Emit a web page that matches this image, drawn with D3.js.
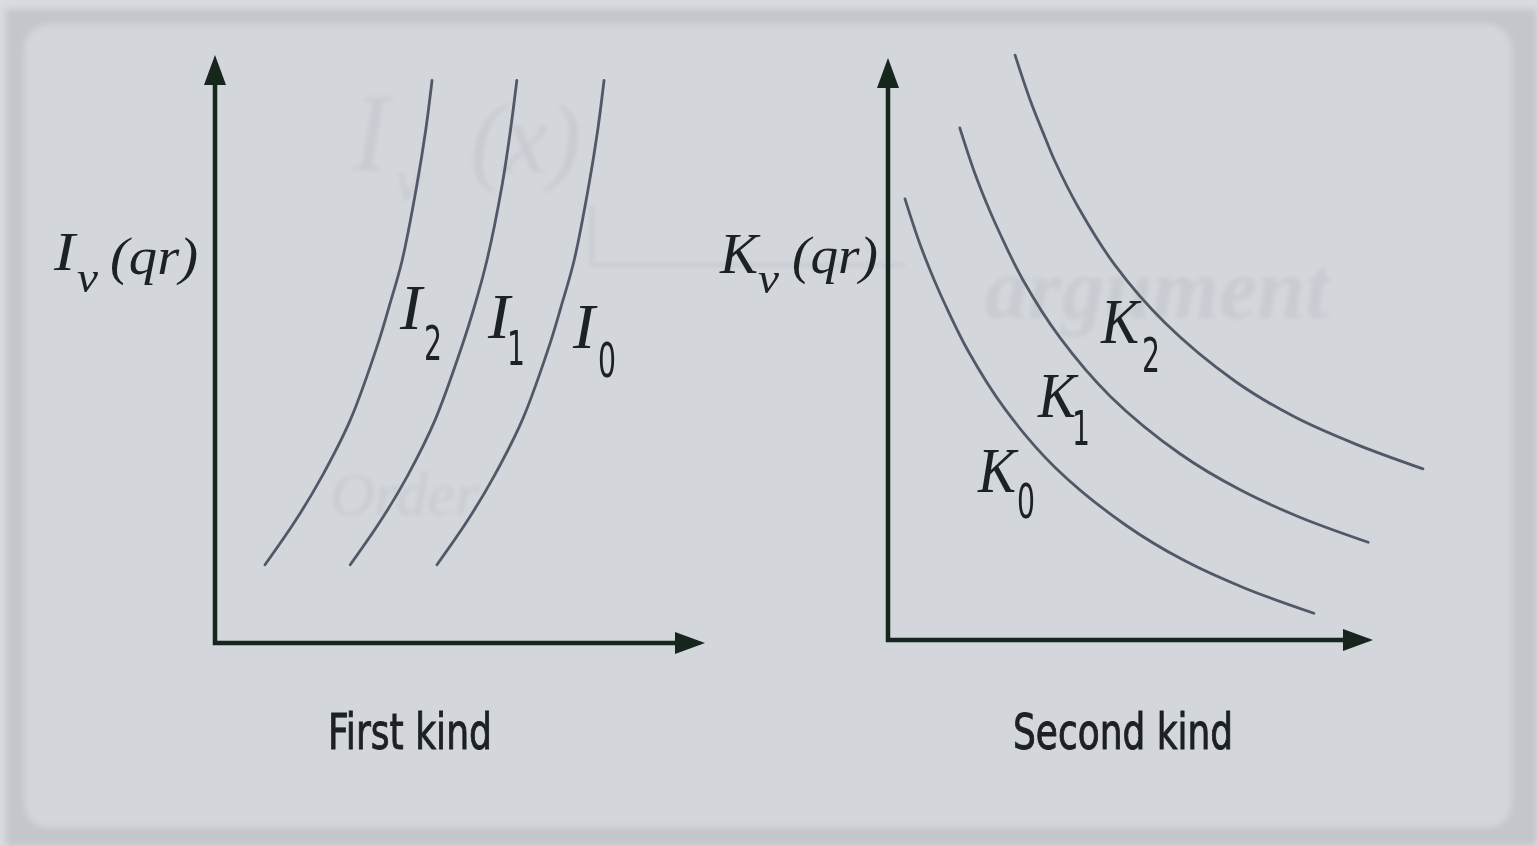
<!DOCTYPE html>
<html>
<head>
<meta charset="utf-8">
<script src="https://cdn.jsdelivr.net/npm/d3@7/dist/d3.min.js"></script>
<style>
  html, body { margin: 0; padding: 0; background: #dcdee1; }
  svg { display: block; }
</style>
</head>
<body>
<svg id="chart" width="1537" height="846"></svg>
<script>
// Modified Bessel functions, schematic curves (x: argument qr, y: value)
const orders = ["0", "1", "2"];

// First kind I_ν(qr): growing curves, points as [qr, value]
const curveI2 = [[1.02,1.33],[1.65,2.09],[2.20,2.86],[2.76,3.79],[3.33,5.10],[3.55,5.71],[3.82,6.51],[4.12,7.79],[4.30,8.72],[4.43,9.57]];
const curveI1 = [[2.76,1.33],[3.39,2.09],[3.94,2.86],[4.49,3.79],[5.06,5.10],[5.29,5.71],[5.55,6.51],[5.86,7.79],[6.03,8.72],[6.16,9.57]];
const curveI0 = [[4.53,1.33],[5.16,2.09],[5.71,2.86],[6.27,3.79],[6.84,5.10],[7.06,5.71],[7.33,6.51],[7.63,7.79],[7.81,8.72],[7.94,9.57]];

// Second kind K_ν(qr): decaying curves
const curveK0 = [[0.35,7.58],[0.66,6.80],[0.97,6.15],[1.18,5.76],[1.65,4.97],[2.41,3.97],[3.44,2.97],[4.89,1.98],[6.12,1.36],[7.36,0.89],[8.78,0.46]];
const curveK1 = [[1.48,8.80],[1.79,8.02],[2.10,7.37],[2.31,6.98],[2.78,6.19],[3.55,5.19],[4.58,4.19],[6.02,3.20],[7.26,2.58],[8.49,2.11],[9.90,1.68]];
const curveK2 = [[2.62,10.05],[2.93,9.28],[3.24,8.63],[3.44,8.23],[3.92,7.44],[4.68,6.44],[5.71,5.45],[7.15,4.45],[8.39,3.83],[9.63,3.37],[11.03,2.94]];

const titles = ["First kind", "Second kind"];
const axisLabels = ["I", "K"];

const svg = d3.select("#chart");
const W = 1537, H = 846;

// ---- slide background ----
const defs = svg.append("defs");
const soft = defs.append("filter").attr("id", "soft")
  .attr("x", "-5%").attr("y", "-5%").attr("width", "110%").attr("height", "110%");
soft.append("feGaussianBlur").attr("stdDeviation", 0.75);
const faint = defs.append("filter").attr("id", "faint")
  .attr("x", "-10%").attr("y", "-10%").attr("width", "120%").attr("height", "120%");
faint.append("feGaussianBlur").attr("stdDeviation", 2.2);
const frameBlur = defs.append("filter").attr("id", "frameBlur")
  .attr("x", "-5%").attr("y", "-5%").attr("width", "110%").attr("height", "110%");
frameBlur.append("feGaussianBlur").attr("stdDeviation", 3);

svg.append("rect").attr("width", W).attr("height", H).attr("fill", "#d9dbdf");
svg.append("rect").attr("x", 6).attr("y", 9).attr("width", W - 6).attr("height", H - 9)
  .attr("fill", "#c3c6cb").attr("filter", "url(#frameBlur)");
svg.append("rect").attr("x", 24).attr("y", 24).attr("width", 1488).attr("height", 804)
  .attr("rx", 26).attr("ry", 26).attr("fill", "#d3d6db").attr("filter", "url(#frameBlur)");

// faint notes showing through the slide
const ghost = svg.append("g").attr("filter", "url(#faint)")
  .attr("fill", "#5c6270").attr("opacity", 0.085)
  .style("font-family", "'Liberation Serif', serif").style("font-style", "italic");
ghost.append("text").attr("x", 352).attr("y", 170).style("font-size", "110px").text("I");
ghost.append("text").attr("x", 395).attr("y", 200).style("font-size", "60px").text("ν");
ghost.append("text").attr("x", 470).attr("y", 172).style("font-size", "100px").text("(x)");
ghost.append("text").attr("x", 985).attr("y", 318).style("font-size", "86px").style("font-weight", "bold").text("argument");
ghost.append("text").attr("x", 330).attr("y", 515).style("font-size", "62px").text("Order");
ghost.append("path").attr("d", "M592,205 V265 H905").attr("fill", "none")
  .attr("stroke", "#5c6270").attr("stroke-width", 4);

// ---- drawing layer ----
const g = svg.append("g").attr("filter", "url(#soft)");

const axisColor = "#15261d";
const curveColor = "#525868";
const textColor = "#1d2024";

// panel scales
const xL = d3.scaleLinear().domain([0, 10]).range([215, 705]);
const yL = d3.scaleLinear().domain([0, 10]).range([643, 55]);
const xR = d3.scaleLinear().domain([0, 10]).range([888, 1373]);
const yR = d3.scaleLinear().domain([0, 10]).range([640, 58]);

function drawAxes(x, y) {
  const x0 = x(0), y0 = y(0), xt = x(10), yt = y(10);
  const head = 30, half = 11;
  g.append("path")
    .attr("d", `M${x0},${yt + head - 4} V${y0} H${xt - head + 4}`)
    .attr("fill", "none").attr("stroke", axisColor).attr("stroke-width", 4.5)
    .attr("stroke-linejoin", "miter").attr("stroke-linecap", "butt");
  g.append("path")
    .attr("d", `M${x0},${yt} L${x0 - half},${yt + head} L${x0 + half},${yt + head} Z`)
    .attr("fill", axisColor);
  g.append("path")
    .attr("d", `M${xt},${y0} L${xt - head},${y0 - half} L${xt - head},${y0 + half} Z`)
    .attr("fill", axisColor);
}

function drawCurves(series, x, y) {
  const line = d3.line().x(d => x(d[0])).y(d => y(d[1]))
    .curve(d3.curveCatmullRom.alpha(0.5));
  g.selectAll(null).data(series).enter().append("path")
    .attr("d", d => line(d))
    .attr("fill", "none").attr("stroke", curveColor)
    .attr("stroke-width", 2.8).attr("stroke-linecap", "round");
}

drawAxes(xL, yL);
drawAxes(xR, yR);
drawCurves([curveI2, curveI1, curveI0], xL, yL);
drawCurves([curveK0, curveK1, curveK2], xR, yR);

const serif = "'Liberation Serif', 'Times New Roman', serif";
const narrow = "'Liberation Sans Narrow', 'DejaVu Sans Condensed', sans-serif";

function italic(x, y, size, str, len) {
  const t = g.append("text").attr("x", x).attr("y", y)
    .attr("fill", textColor)
    .style("font-family", serif).style("font-style", "italic")
    .style("font-size", size + "px").text(str);
  if (len) t.attr("textLength", len).attr("lengthAdjust", "spacingAndGlyphs");
  return t;
}
function digit(x, y, str) {
  return g.append("text").attr("x", x).attr("y", y)
    .attr("fill", textColor)
    .style("font-family", narrow).style("font-size", "48px")
    .attr("textLength", 18).attr("lengthAdjust", "spacingAndGlyphs")
    .text(str);
}

// curve labels I_ν
italic(400, 329, 64, axisLabels[0], 22); digit(424, 360, orders[2]);
italic(488, 338, 64, axisLabels[0], 22); digit(507, 365, orders[1]);
italic(573, 348, 64, axisLabels[0], 22); digit(598, 377, orders[0]);

// curve labels K_ν
italic(1101, 343, 64, axisLabels[1], 38); digit(1142, 372, orders[2]);
italic(1038, 417, 64, axisLabels[1], 38); digit(1072, 445, orders[1]);
italic(978, 492, 64, axisLabels[1], 38); digit(1017, 518, orders[0]);

// axis titles
italic(54, 270, 54, axisLabels[0], 21);
italic(77, 292, 44, "ν", 21);
italic(110, 274, 52, "(qr)", 88);

italic(720, 273, 56, axisLabels[1], 38);
italic(758, 293, 44, "ν", 21);
italic(792, 273, 52, "(qr)", 86);

// panel captions
function caption(x, str, len) {
  g.append("text").attr("x", x).attr("y", 749)
    .attr("fill", textColor).attr("stroke", textColor).attr("stroke-width", 0.9)
    .style("font-family", narrow).style("font-size", "49px")
    .attr("textLength", len).attr("lengthAdjust", "spacingAndGlyphs")
    .text(str);
}
caption(328, titles[0], 164);
caption(1013, titles[1], 220);
</script>
</body>
</html>
